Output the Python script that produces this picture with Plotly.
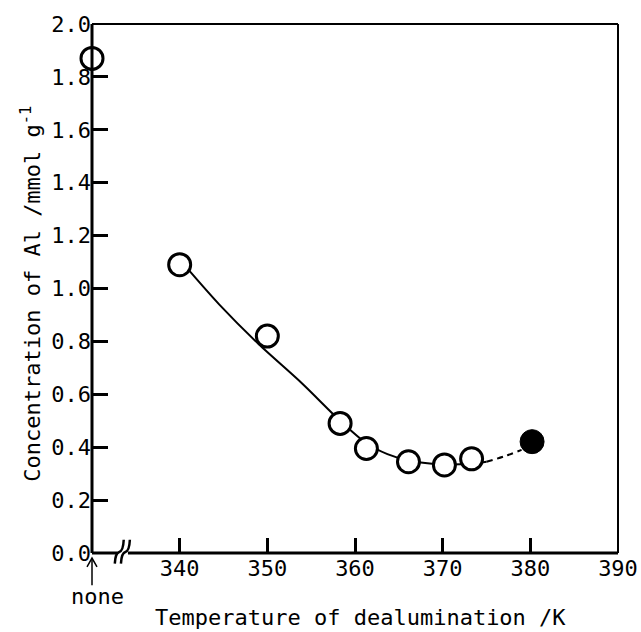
"""
Al concentration vs dealumination temperature
"""
import plotly.graph_objects as go

# data
# x = 330 stands for the "none" (untreated) sample at the left edge
open_x = [330, 340, 350, 358.3, 361.3, 366.1, 370.2, 373.3]
open_y = [1.87, 1.09, 0.82, 0.49, 0.395, 0.345, 0.333, 0.356]
filled_x = [380.2]
filled_y = [0.421]

# hand drawn fit curve (solid part, then dashed part)
curve_x = [340.5, 344.5, 349.0, 354.0, 358.3, 361.3, 363.7, 366.1, 370.2, 373.3, 375.0]
curve_y = [1.09, 0.94, 0.79, 0.64, 0.50, 0.415, 0.374, 0.35, 0.335, 0.338, 0.345]
dash_x = [375.0, 377.0, 379.0]
dash_y = [0.345, 0.365, 0.39]

x_ticks = [340, 350, 360, 370, 380, 390]
y_ticks = [0.0, 0.2, 0.4, 0.6, 0.8, 1.0, 1.2, 1.4, 1.6, 1.8, 2.0]

XMIN, XMAX = 330, 390
FONT = "DejaVu Sans Mono"
FS = 22

fig = go.Figure()

fig.add_trace(go.Scatter(x=curve_x, y=curve_y, mode="lines",
                         line=dict(color="black", width=2, shape="spline", smoothing=0.8),
                         cliponaxis=False))
fig.add_trace(go.Scatter(x=dash_x, y=dash_y, mode="lines",
                         line=dict(color="black", width=2, shape="spline", dash="6px,5px"),
                         cliponaxis=False))
fig.add_trace(go.Scatter(x=open_x, y=open_y, mode="markers",
                         marker=dict(size=22, color="white", line=dict(color="black", width=3)),
                         cliponaxis=False))
fig.add_trace(go.Scatter(x=filled_x, y=filled_y, mode="markers",
                         marker=dict(size=24, color="black", line=dict(color="black", width=1)),
                         cliponaxis=False))


def px(v):
    # data x -> paper x
    return (v - XMIN) / (XMAX - XMIN)


# frame: thick left / bottom, thin top / right, bottom broken near "none"
gap0, gap1 = px(332.9), px(334.1)
shapes = [
    dict(type="line", xref="paper", yref="paper", x0=0, x1=0, y0=0, y1=1, line=dict(color="black", width=3)),
    dict(type="line", xref="paper", yref="paper", x0=0, x1=gap0, y0=0, y1=0, line=dict(color="black", width=3)),
    dict(type="line", xref="paper", yref="paper", x0=gap1, x1=1, y0=0, y1=0, line=dict(color="black", width=3)),
    dict(type="line", xref="paper", yref="paper", x0=0, x1=1, y0=1, y1=1, line=dict(color="black", width=2)),
    dict(type="line", xref="paper", yref="paper", x0=1, x1=1, y0=0, y1=1, line=dict(color="black", width=2)),
]
# break marks (two wavy slashes)
for xb in (332.6, 333.3):
    a = px(xb)
    b = a + 0.017
    m = (a + b) / 2
    shapes.append(dict(
        type="path", xref="paper", yref="paper",
        path=f"M {a},-0.02 Q {a + 0.001},0.0 {m},0.002 Q {b - 0.001},0.004 {b},0.025",
        line=dict(color="black", width=2.5)))
# up arrow under the "none" position
shapes.append(dict(type="line", xref="paper", yref="paper", x0=0, x1=0, y0=-0.0095, y1=-0.061,
                   line=dict(color="black", width=1.5)))
shapes.append(dict(type="path", xref="paper", yref="paper",
                   path="M -0.0095,-0.026 L 0,-0.0095 L 0.0095,-0.026",
                   line=dict(color="black", width=1.5)))
fig.update_layout(shapes=shapes)

fig.add_annotation(x=0.011, y=-0.083, xref="paper", yref="paper", text="none",
                   showarrow=False, xanchor="center", yanchor="middle",
                   font=dict(family=FONT, size=FS, color="black"))

# axis titles
fig.add_annotation(x=0.51, y=-0.121, xref="paper", yref="paper",
                   text="Temperature of dealumination /K", showarrow=False,
                   xanchor="center", yanchor="middle",
                   font=dict(family=FONT, size=FS, color="black"))
fig.add_annotation(x=-0.116, y=0.49, xref="paper", yref="paper",
                   text="Concentration of Al /mmol g<sup>-1</sup>", showarrow=False,
                   textangle=-90, xanchor="center", yanchor="middle",
                   font=dict(family=FONT, size=FS, color="black"))

fig.update_layout(
    width=641,
    height=632,
    margin=dict(l=92, r=23, t=24, b=79),
    paper_bgcolor="white",
    plot_bgcolor="white",
    showlegend=False,
    font=dict(family=FONT, size=FS, color="black"),
    xaxis=dict(
        range=[XMIN, XMAX],
        tickvals=x_ticks,
        ticktext=[str(v) for v in x_ticks],
        ticks="inside", ticklen=15, tickwidth=3, tickcolor="black",
        showgrid=False, zeroline=False, showline=False, automargin=False,
    ),
    yaxis=dict(
        range=[0, 2.0],
        tickvals=y_ticks,
        ticktext=[f"{v:.1f}" for v in y_ticks],
        ticks="inside", ticklen=16, tickwidth=3, tickcolor="black",
        showgrid=False, zeroline=False, showline=False, automargin=False,
    ),
)

# the page body has a default 8px margin; drop it so the figure fills the window
fig.write_html("out.html", config={"displayModeBar": False},
               post_script="document.body.style.margin='0';")
